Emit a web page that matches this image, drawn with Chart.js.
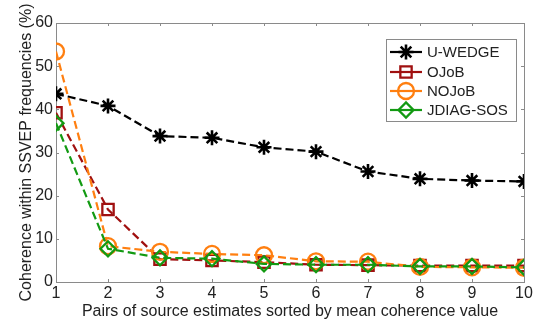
<!DOCTYPE html>
<html>
<head>
<meta charset="utf-8">
<script src="https://cdn.jsdelivr.net/npm/chart.js@4/dist/chart.umd.min.js"></script>
<style>
html,body{margin:0;padding:0;background:#fff;}
#wrap{width:535px;height:322px;position:relative;}
</style>
</head>
<body>
<div id="wrap"><canvas id="c" width="535" height="322"></canvas></div>
<script>
const xValues = [1, 2, 3, 4, 5, 6, 7, 8, 9, 10];
const uWedge = [43.6, 40.8, 33.8, 33.4, 31.2, 30.2, 25.6, 23.9, 23.5, 23.3];
const ojob = [39.2, 16.8, 5.3, 5.0, 4.6, 4.0, 3.9, 3.8, 3.8, 3.8];
const nojob = [53.4, 8.3, 7.0, 6.5, 6.2, 4.8, 4.7, 3.5, 3.4, 3.3];
const jdiag = [36.8, 7.7, 5.6, 5.4, 4.2, 4.0, 4.0, 3.6, 3.6, 3.4];
const seriesNames = ['U-WEDGE', 'OJoB', 'NOJoB', 'JDIAG-SOS'];
const xTitle = 'Pairs of source estimates sorted by mean coherence value';
const yTitle = 'Coherence within SSVEP frequencies (%)';

const colors = ['#000000', '#a01010', '#ff7f10', '#129a12'];
const styles = ['star', 'rect', 'circle', 'rectRot'];
const radii = [7.5, 8, 8, 7.5];
const pbw = [2.6, 2.3, 2.3, 2.3];
const FONT = "'Liberation Sans', Arial, sans-serif";

function mk(i, vals) {
  return {
    label: seriesNames[i],
    data: xValues.map((x, k) => ({x: x, y: vals[k]})),
    borderColor: colors[i],
    backgroundColor: 'rgba(0,0,0,0)',
    borderWidth: 2.2,
    borderDash: [8, 4],
    pointStyle: styles[i],
    pointRadius: radii[i],
    pointBorderWidth: pbw[i],
    pointBorderColor: colors[i],
    pointBackgroundColor: 'rgba(0,0,0,0)',
    tension: 0,
    order: 3 - i
  };
}

const boxPlugin = {
  id: 'boxPlugin',
  beforeDatasetsDraw(chart) {
    const {ctx, chartArea: a, scales: {x, y}} = chart;
    ctx.save();
    ctx.strokeStyle = '#8a8a8a';
    ctx.lineWidth = 1;
    ctx.strokeRect(Math.round(a.left) + 0.5, Math.round(a.top) + 0.5, Math.round(a.right - a.left), Math.round(a.bottom - a.top));
    ctx.beginPath();
    const tl = 3;
    x.ticks.forEach(t => {
      const px = Math.round(x.getPixelForValue(t.value)) + 0.5;
      ctx.moveTo(px, a.bottom); ctx.lineTo(px, a.bottom - tl);
      ctx.moveTo(px, a.top); ctx.lineTo(px, a.top + tl);
    });
    y.ticks.forEach(t => {
      const py = Math.round(y.getPixelForValue(t.value)) + 0.5;
      ctx.moveTo(a.left, py); ctx.lineTo(a.left + tl, py);
      ctx.moveTo(a.right, py); ctx.lineTo(a.right - tl, py);
    });
    ctx.stroke();
    ctx.restore();
  }
};

const legendPlugin = {
  id: 'matLegend',
  afterDraw(chart) {
    const ctx = chart.ctx;
    const bx = 386.5, by = 39.5, bw = 130, bh = 82;
    ctx.save();
    ctx.fillStyle = '#fff';
    ctx.fillRect(bx, by, bw, bh);
    ctx.strokeStyle = '#8a8a8a';
    ctx.lineWidth = 1;
    ctx.strokeRect(bx, by, bw, bh);
    const rows = [52, 72, 91, 110];
    chart.data.datasets.forEach((ds, i) => {
      const yy = rows[i];
      ctx.strokeStyle = ds.borderColor;
      ctx.lineWidth = 2.2;
      ctx.setLineDash([]);
      ctx.beginPath();
      ctx.moveTo(390, yy); ctx.lineTo(422, yy);
      ctx.stroke();
      ctx.fillStyle = 'rgba(0,0,0,0)';
      ctx.lineWidth = ds.pointBorderWidth;
      Chart.helpers.drawPoint(ctx, {
        pointStyle: ds.pointStyle, radius: ds.pointRadius, borderWidth: ds.pointBorderWidth, rotation: 0
      }, 406, yy);
      ctx.fillStyle = '#222';
      ctx.font = '15px ' + FONT;
      ctx.textBaseline = 'middle';
      ctx.textAlign = 'left';
      ctx.fillText(ds.label, 427, yy + 1);
    });
    ctx.restore();
  }
};

new Chart(document.getElementById('c'), {
  type: 'line',
  data: {
    datasets: [mk(0, uWedge), mk(1, ojob), mk(2, nojob), mk(3, jdiag)]
  },
  options: {
    responsive: false,
    animation: false,
    layout: {padding: {left: 0, right: 11, top: 23, bottom: 0}},
    plugins: {legend: {display: false}, tooltip: {enabled: false}},
    scales: {
      x: {
        type: 'linear', min: 1, max: 10,
        ticks: {stepSize: 1, color: '#222', font: {size: 16, family: FONT}, padding: 2, maxRotation: 0},
        grid: {display: false, drawTicks: false, tickLength: 0},
        border: {display: false},
        title: {display: true, text: xTitle, color: '#222', font: {size: 16, family: FONT}, padding: {top: 0, bottom: 1}},
        afterFit(s) { s.height = 40; }
      },
      y: {
        type: 'linear', min: 0, max: 60,
        ticks: {stepSize: 10, color: '#222', font: {size: 16, family: FONT}, padding: 3},
        grid: {display: false, drawTicks: false, tickLength: 0},
        border: {display: false},
        title: {display: true, text: yTitle, color: '#222', font: {size: 16, family: FONT}, padding: {top: 17, bottom: 0}},
        afterFit(s) { s.width = 56; }
      }
    }
  },
  plugins: [boxPlugin, legendPlugin]
});
</script>
</body>
</html>
